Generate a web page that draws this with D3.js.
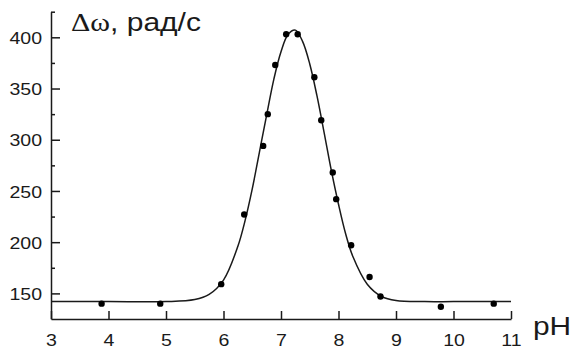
<!DOCTYPE html>
<html>
<head>
<meta charset="utf-8">
<script src="https://cdn.jsdelivr.net/npm/d3@7"></script>
<style>
  body { margin: 0; background: #fff; }
  svg { display: block; }
</style>
</head>
<body>
<div class="chart"></div>
<script>
// измеренные точки
var phData = [3.88, 4.90, 5.96, 6.36, 6.69, 6.77, 6.90, 7.09, 7.29, 7.58, 7.70, 7.90, 7.96, 8.22, 8.54, 8.73, 9.78, 10.70];
var dwData = [140, 140, 159, 227, 294, 325, 373, 403, 403, 361, 319, 268, 242, 197, 166, 147, 137, 140];

// аппроксимирующая кривая
var curvePh = [3, 4, 5, 5.5, 5.75, 6, 6.25, 6.375, 6.5, 6.625, 6.75, 6.875, 7, 7.125, 7.25, 7.375, 7.5, 7.625, 7.75, 7.875, 8, 8.125, 8.25, 8.5, 8.75, 9, 9.5, 10, 11];
var curveDw = [142, 142, 142, 144, 149, 163, 196, 221, 252, 288, 324, 359, 386, 403, 407, 396, 374, 343, 307, 270, 237, 208, 186, 159, 147, 143, 142, 142, 142];

var xTicks = [3, 4, 5, 6, 7, 8, 9, 10, 11];
var yTicks = [150, 200, 250, 300, 350, 400];
var yMinor = [175, 225, 275, 325, 375, 425];

var W = 576, H = 349;
var ink = "#1a1a1a";
var font = "'Liberation Sans', Arial, sans-serif";
var sx = 1.15; // текст на картинке немного растянут по горизонтали

var x = d3.scaleLinear().domain([3, 11]).range([51, 511]);
var y = d3.scaleLinear().domain([125, 425]).range([319, 11.7]);

var svg = d3.select(".chart").append("svg")
  .attr("width", W)
  .attr("height", H)
  .attr("font-family", font);

// ось X
var gx = svg.append("g")
  .attr("transform", "translate(0," + y(125) + ")")
  .call(d3.axisBottom(x).tickValues(xTicks).tickSizeInner(-8).tickSizeOuter(0).tickPadding(0).tickFormat(d3.format("d")))
  .attr("font-family", font)
  .attr("font-size", 17);

gx.selectAll("text")
  .attr("y", 27)
  .attr("dy", 0)
  .attr("fill", ink)
  .attr("transform", "scale(" + sx + ",1)");

// ось Y
var gy = svg.append("g")
  .attr("transform", "translate(" + x(3) + ",0)")
  .call(d3.axisLeft(y).tickValues(yTicks).tickSizeInner(-9).tickSizeOuter(0).tickPadding(7.8))
  .attr("font-family", font)
  .attr("font-size", 17);

gy.selectAll("text")
  .attr("dy", "0.36em")
  .attr("fill", ink)
  .attr("transform", "scale(" + sx + ",1)");

// малые деления
svg.append("g")
  .attr("transform", "translate(" + x(3) + ",0)")
  .call(d3.axisLeft(y).tickValues(yMinor).tickSizeInner(-4).tickSizeOuter(0).tickFormat(""))
  .select(".domain").remove();

svg.selectAll(".domain, .tick line")
  .attr("stroke", ink)
  .attr("stroke-width", 1.5);

// кривая
var pts = curvePh.map(function(d, i){ return [d, curveDw[i]]; });
svg.append("path")
  .datum(pts)
  .attr("d", d3.line()
    .x(function(d){ return x(d[0]); })
    .y(function(d){ return y(d[1]); })
    .curve(d3.curveCatmullRom.alpha(0.5)))
  .attr("fill", "none")
  .attr("stroke", ink)
  .attr("stroke-width", 1.5);

// точки
svg.append("g")
  .selectAll("circle")
  .data(phData)
  .enter().append("circle")
  .attr("cx", function(d){ return x(d); })
  .attr("cy", function(d, i){ return y(dwData[i]); })
  .attr("r", 3.2)
  .attr("fill", "#000");

// подпись оси Y
svg.append("text")
  .attr("transform", "translate(71,31) scale(1.2,1)")
  .attr("font-size", "25px")
  .attr("fill", ink)
  .each(function(){
    var t = d3.select(this);
    t.append("tspan")
      .attr("font-family", "'Liberation Serif', 'Times New Roman', serif")
      .text("Δω");
    t.append("tspan").text(", рад/с");
  });

// подпись оси X
svg.append("text")
  .attr("transform", "translate(533,335) scale(1.15,1)")
  .attr("font-size", "26px")
  .attr("fill", ink)
  .text("pH");
</script>
</body>
</html>
